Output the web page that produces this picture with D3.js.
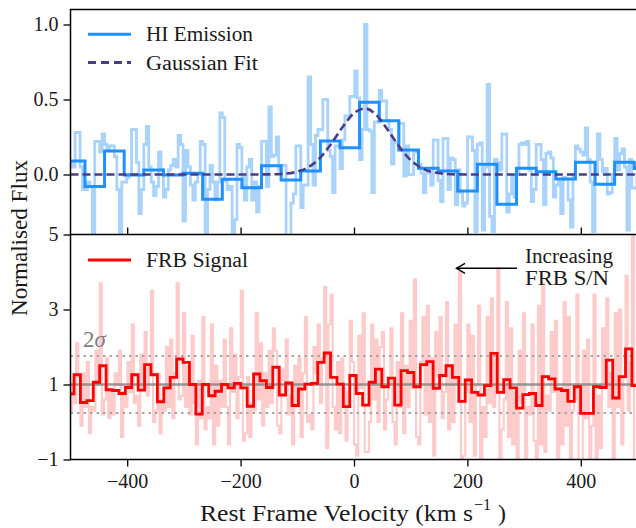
<!DOCTYPE html>
<html>
<head>
<meta charset="utf-8">
<script src="https://cdnjs.cloudflare.com/ajax/libs/d3/7.8.5/d3.min.js"></script>
<style>
body { margin: 0; background: #fff; }
svg text { font-family: "Liberation Serif", "Times New Roman", "DejaVu Serif", serif; fill: #1a1a1a; }
</style>
</head>
<body>
<div id="chart"></div>
<script>
// HI spectrum, native channels
const hiFineStart = -500.45, hiFineWidth = 4.325;
const hiFine = [
  0.08, 0.05, 0.28, 0.28, 0.05, -0.10, -0.10, -0.05, -0.08, -0.45,
  0.22, 0.22, 0.15, 0.27, 0.20, 0.16, 0.19, 0.19, 0.12, -0.10,
  -0.45, -0.05, -0.05, -0.02, 0.00, 0.30, 0.30, 0.08, -0.26, -0.10,
  0.20, 0.32, 0.05, -0.05, -0.14, -0.08, 0.15, 0.03, -0.15, -0.10,
  0.03, 0.06, 0.10, 0.05, 0.26, 0.20, -0.31, 0.16, 0.05, -0.07,
  -0.17, -0.05, 0.00, 0.22, 0.20, -0.45, -0.10, 0.06, -0.05, -0.17,
  -0.05, 0.41, 0.38, -0.04, -0.10, -0.08, -0.45, -0.30, 0.20, 0.18,
  -0.02, -0.17, 0.05, 0.10, -0.17, -0.05, -0.25, -0.08, 0.22, 0.22,
  -0.08, 0.45, 0.12, 0.13, 0.25, 0.03, 0.06, 0.06, -0.45, -0.45,
  -0.19, -0.13, 0.19, 0.19, -0.22, -0.07, -0.07, 0.65, 0.20, -0.07,
  0.26, 0.30, 0.30, 0.50, 0.50, 0.16, 0.12, -0.12, 0.19, 0.19,
  0.04, 0.23, 0.39, 0.39, 0.52, 0.52, 0.69, 0.51, 0.10, 0.30,
  1.00, 0.30, 0.29, -0.12, 0.35, 0.35, 0.56, 0.49, 0.49, 0.36,
  0.30, 0.07, 0.21, 0.21, 0.34, 0.34, -0.01, 0.19, 0.00, 0.00,
  0.15, 0.15, 0.07, 0.01, -0.12, 0.01, 0.01, -0.07, 0.23, 0.23,
  -0.04, -0.18, 0.24, 0.24, -0.10, 0.11, 0.10, -0.20, 0.03, -0.12,
  -0.21, -0.19, 0.25, 0.25, 0.16, -0.38, 0.20, 0.21, -0.37, 0.05,
  0.60, -0.28, -0.38, 0.10, 0.08, 0.03, 0.27, 0.27, -0.25, -0.13,
  -0.01, -0.15, 0.00, 0.20, 0.21, 0.20, 0.22, 0.03, -0.18, -0.10,
  0.20, 0.20, 0.10, -0.20, 0.14, 0.15, 0.11, -0.15, -0.07, -0.05,
  -0.26, -0.02, -0.03, -0.17, -0.35, 0.00, 0.19, 0.17, 0.15, 0.13,
  0.31, 0.10, -0.05, -0.38, 0.00, 0.27, 0.10, 0.02, 0.04, -0.13,
  -0.12, 0.00, 0.24, 0.03, 0.14, 0.17, 0.05, -0.37, 0.10, -0.09,
  -0.09, 0.00
];

// HI spectrum, binned
const hiBinStart = -509.1, hiBinWidth = 34.6;
const hiBinned = [
  0.09, -0.08, 0.157, -0.003, 0.03, -0.003, 0.008, -0.165, -0.032, -0.088,
  0.059, -0.037, 0.023, 0.223, 0.179, 0.481, 0.359, 0.163, 0.041, 0.023,
  -0.11, 0.068, -0.199, 0.041, 0.019, -0.03, 0.081, -0.065, 0.081, 0.04
];

// gaussian fit
const fitVel = [-500, -200, -150, -120, -100, -80, -60, -40, -20, 0, 20, 40, 60, 80, 100, 120, 140, 160, 180, 220, 500];
const fitFlux = [0, 0, 0.001, 0.006, 0.019, 0.05, 0.111, 0.206, 0.317, 0.409, 0.44, 0.394, 0.295, 0.184, 0.096, 0.042, 0.015, 0.005, 0.001, 0, 0];

// FRB spectrum, native channels
const frbFineStart = -505.1, frbFineWidth = 3.77;
const frbFine = [
  0.9, 0.3, 1.0,  0.5, 2.1, 1.2,  -0.1, 1.3, 0.4,  1.6, -0.3, 0.4,  0.3, 1.9, 1.0,
  3.7, 0.2, 0.6,  1.7, 0.1, 0.8,  0.2, 1.3, 1.0,  1.9, -0.4, 0.8,  0.4, 1.6, 0.8,
  2.6, 0.5, 0.7,  -0.1, 1.8, 0.9,  2.4, 0.7, 1.5,  3.5, 0.0, 0.3,  1.3, -0.3, 0.6,
  0.3, 2.0, 0.4,  2.2, 0.1, 1.3,  3.7, 0.6, 0.7,  2.9, 0.4, 1.5,  0.2, 2.3, 0.5,
  -0.6, 1.1, 0.1,  2.8, -0.2, 0.4,  0.1, 2.6, -0.6,  1.5, -0.1, 1.1,  0.4, 2.2, 0.4,
  -0.6, 2.5, 0.8,  1.8, 0.1, 1.2,  3.5, -0.5, -0.3,  1.2, -0.4, 0.5,  0.3, 2.9, 0.6,
  2.1, -0.1, 1.3,  0.4, 1.9, 0.5,  2.5, 1.9, -0.1,  -0.3, 1.4, 1.1,  2.2, 0.2, 0.7,
  -0.6, 1.5, 0.4,  1.7, -0.4, 1.3,  2.8, 0.0, 0.2,  -0.2, 2.0, 1.3,  2.6, 0.5, 1.7,
  3.6, -0.7, 2.6,  3.4, 0.4, -0.2,  1.6, -0.3, 1.7,  0.9, -0.5, 0.8,  2.7, 1.6, -0.6,
  -0.9, 2.3, 0.9,  2.9, -0.8, -0.8,  0.0, 2.6, 0.6,  2.2, 0.0, 2.0,  2.4, -0.2, 0.6,
  1.0, 2.5, 0.0,  -0.6, 1.6, 0.4,  2.9, -0.3, 1.5,  0.4, 2.7, 0.9,  3.8, -0.4, -0.6,
  1.6, 2.8, 0.2,  3.1, 0.0, 1.7,  -0.9, 2.4, 1.2,  2.8, 0.1, 0.8,  3.2, -0.2, 1.5,
  0.0, 2.6, 1.0,  4.0, -1.4, -0.9,  0.8, 2.6, 0.0,  2.3, -0.9, 1.0,  3.1, -1.3, 0.4,
  -0.4, 2.8, 0.5,  3.3, 0.4, 1.8,  4.1, -1.5, -0.2,  0.6, 3.2, -0.4,  2.5, -0.6, 0.8,
  -1.3, 1.9, 0.5,  2.9, -1.1, 0.4,  0.2, 2.6, -0.5,  -1.2, 3.1, -0.6,  3.7, -0.8, 0.7,
  0.3, 2.4, 0.8,  2.7, -1.0, 0.9,  -0.6, 3.2, -0.1,  2.8, -1.4, 0.3,  0.6, 3.4, -1.2,
  -1.3, 1.9, 0.1,  2.2, -1.4, -0.1,  3.4, -1.3, 0.7,  -0.7, 2.5, 1.0,  3.3, 0.4, 1.3,
  -1.4, 2.9, 0.4,  3.0, -0.6, 1.2,  3.9, 0.3, 1.6,  5.6, -1.5, -1.2
];

// FRB spectrum, binned
const frbBinStart = -505.1, frbBinWidth = 11.31;
const frbBinned = [
  0.75, 1.26, 0.52, 0.57, 1.06, 1.5, 0.86, 0.84, 0.76, 0.92,
  1.26, 0.85, 1.53, 1.26, 0.54, 0.91, 1.19, 1.68, 1.59, 1.0,
  0.21, 1.0, 0.7, 0.82, 1.0, 0.91, 1.03, 0.91, 0.42, 1.28,
  1.1, 0.92, 1.46, 0.72, 1.04, 0.44, 0.88, 1.01, 1.03, 1.59,
  1.84, 1.19, 1.01, 0.41, 1.24, 0.76, 0.45, 1.06, 1.41, 0.94,
  1.17, 0.45, 1.37, 1.32, 0.94, 1.53, 1.61, 0.9, 1.24, 1.5,
  1.19, 0.55, 1.12, 0.79, 0.72, 0.97, 1.83, 0.79, 1.13, 0.91,
  0.37, 0.73, 0.76, 0.44, 1.21, 1.15, 0.88, 0.84, 0.55, 0.94,
  0.23, 0.23, 0.94, 0.92, 1.65, 0.64, 1.21, 1.95, 0.97
];

const frbMean = 1;
const sigmaLevels = [0.24, 1.76];

const xTicks = [-400, -200, 0, 200, 400];
const topTicks = [0, 0.5, 1.0];
const botTicks = [-1, 1, 3, 5];

const width = 636, height = 528;
const left = 70.5, right = 637.5;
const top1 = 9.5, mid = 234.5, bottom = 459.5;

const svg = d3.select("#chart").append("svg")
    .attr("width", width)
    .attr("height", height);

const x = d3.scaleLinear().domain([-500, 500]).range([left, right]);
const yTop = d3.scaleLinear().domain([-0.4, 1.1]).range([mid, top1]);
const yBot = d3.scaleLinear().domain([-1, 5]).range([bottom, mid]);

const defs = svg.append("defs");
defs.append("clipPath").attr("id", "clipTop")
  .append("rect").attr("x", left).attr("y", top1).attr("width", right - left).attr("height", mid - top1);
defs.append("clipPath").attr("id", "clipBot")
  .append("rect").attr("x", left).attr("y", mid).attr("width", right - left).attr("height", bottom - mid);

// turn bin values into step points
function steps(start, w, vals) {
    const pts = vals.map((v, i) => [start + i * w, v]);
    pts.push([start + vals.length * w, vals[vals.length - 1]]);
    return pts;
}

const stepTop = d3.line().curve(d3.curveStepAfter)
    .x(d => x(d[0])).y(d => yTop(d[1]));
const stepBot = d3.line().curve(d3.curveStepAfter)
    .x(d => x(d[0])).y(d => yBot(d[1]));

// top panel
const gTop = svg.append("g").attr("clip-path", "url(#clipTop)");

gTop.append("path")
    .attr("d", stepTop(steps(hiFineStart, hiFineWidth, hiFine)))
    .attr("fill", "none")
    .attr("stroke", "#a9d3fb")
    .attr("stroke-width", 2.8);

gTop.append("path")
    .attr("d", stepTop(steps(hiBinStart, hiBinWidth, hiBinned)))
    .attr("fill", "none")
    .attr("stroke", "#1e90ff")
    .attr("stroke-width", 3);

const fitLine = d3.line().curve(d3.curveMonotoneX)
    .x((d, i) => x(fitVel[i])).y(d => yTop(d));
gTop.append("path")
    .attr("d", fitLine(fitFlux))
    .attr("fill", "none")
    .attr("stroke", "#483d8b")
    .attr("stroke-width", 2.6)
    .attr("stroke-dasharray", "8,4");

// bottom panel
const gBot = svg.append("g").attr("clip-path", "url(#clipBot)");

gBot.append("path")
    .attr("d", stepBot(steps(frbFineStart, frbFineWidth, frbFine)))
    .attr("fill", "none")
    .attr("stroke", "#ffcaca")
    .attr("stroke-width", 2.1);

gBot.append("line")
    .attr("x1", left).attr("x2", right)
    .attr("y1", yBot(frbMean)).attr("y2", yBot(frbMean))
    .attr("stroke", "#808080")
    .attr("stroke-opacity", 0.8)
    .attr("stroke-width", 2.5);

gBot.selectAll(".sig")
    .data(sigmaLevels)
    .enter()
    .append("line")
    .attr("class", "sig")
    .attr("x1", left).attr("x2", right)
    .attr("y1", d => yBot(d)).attr("y2", d => yBot(d))
    .attr("stroke", "#a6a6a6")
    .attr("stroke-width", 2.2)
    .attr("stroke-dasharray", "2.5,4");

gBot.append("path")
    .attr("d", stepBot(steps(frbBinStart, frbBinWidth, frbBinned)))
    .attr("fill", "none")
    .attr("stroke", "#ff0000")
    .attr("stroke-width", 2.8);

// axes
function styleAxis(g) {
    g.select(".domain").remove();
    g.selectAll(".tick line").attr("stroke", "#000").attr("stroke-width", 1.3);
    g.selectAll(".tick text")
        .attr("fill", "#1a1a1a")
        .style("font-family", "'Liberation Serif', serif")
        .style("font-size", "20px");
}

svg.append("g")
    .attr("transform", `translate(0,${bottom})`)
    .call(d3.axisBottom(x).tickValues(xTicks).tickSize(7).tickPadding(7).tickFormat(d3.format("d")))
    .call(styleAxis);

svg.append("g")
    .attr("transform", `translate(0,${mid})`)
    .call(d3.axisBottom(x).tickValues(xTicks).tickSize(-7).tickFormat(""))
    .call(styleAxis);

svg.append("g")
    .attr("transform", `translate(${left},0)`)
    .call(d3.axisLeft(yTop).tickValues(topTicks).tickSize(7).tickPadding(5).tickFormat(d3.format(".1f")))
    .call(styleAxis);

svg.append("g")
    .attr("transform", `translate(${left},0)`)
    .call(d3.axisLeft(yBot).tickValues(botTicks).tickSize(7).tickPadding(5).tickFormat(d3.format("d")))
    .call(styleAxis);

// spines
svg.append("rect")
    .attr("x", left).attr("y", top1)
    .attr("width", right - left).attr("height", bottom - top1)
    .attr("fill", "none").attr("stroke", "#000").attr("stroke-width", 1.5);
svg.append("line")
    .attr("x1", left).attr("x2", right).attr("y1", mid).attr("y2", mid)
    .attr("stroke", "#000").attr("stroke-width", 1.5);

// axis labels
svg.append("text")
    .attr("x", 200).attr("y", 521)
    .attr("textLength", 273)
    .attr("lengthAdjust", "spacingAndGlyphs")
    .style("font-size", "24px")
    .text("Rest Frame Velocity (km s");
svg.append("text")
    .attr("x", 474).attr("y", 510)
    .style("font-size", "16px")
    .text("\u22121");
svg.append("text")
    .attr("x", 498).attr("y", 521)
    .style("font-size", "24px")
    .text(")");

svg.append("text")
    .attr("transform", "translate(27,238) rotate(-90)")
    .attr("text-anchor", "middle")
    .attr("textLength", 156)
    .attr("lengthAdjust", "spacingAndGlyphs")
    .style("font-size", "24px")
    .text("Normalised Flux");

// legends
const legTop = [
    { label: "HI Emission", color: "#1e90ff", dash: null, y: 34.3, len: 107 },
    { label: "Gaussian Fit", color: "#483d8b", dash: "8,5", y: 62.5, len: 112 }
];
legTop.forEach(function(d) {
    svg.append("line")
        .attr("x1", 88).attr("x2", 131)
        .attr("y1", d.y).attr("y2", d.y)
        .attr("stroke", d.color)
        .attr("stroke-width", 3)
        .attr("stroke-dasharray", d.dash);
    svg.append("text")
        .attr("x", 146).attr("y", d.y + 7)
        .attr("textLength", d.len)
        .attr("lengthAdjust", "spacingAndGlyphs")
        .style("font-size", "20px")
        .text(d.label);
});

svg.append("line")
    .attr("x1", 88).attr("x2", 131)
    .attr("y1", 260).attr("y2", 260)
    .attr("stroke", "#ff0000")
    .attr("stroke-width", 3);
svg.append("text")
    .attr("x", 146).attr("y", 267)
    .attr("textLength", 102)
    .attr("lengthAdjust", "spacingAndGlyphs")
    .style("font-size", "20px")
    .text("FRB Signal");

// 2 sigma label
svg.append("text")
    .attr("x", 83).attr("y", 347)
    .style("font-size", "23px")
    .style("fill", "#808080")
    .html("2<tspan font-style='italic'>\u03c3</tspan>");

// annotation
svg.append("text")
    .attr("x", 525).attr("y", 263)
    .attr("textLength", 88)
    .attr("lengthAdjust", "spacingAndGlyphs")
    .style("font-size", "20px")
    .text("Increasing");
svg.append("text")
    .attr("x", 525).attr("y", 285)
    .attr("textLength", 84)
    .attr("lengthAdjust", "spacingAndGlyphs")
    .style("font-size", "20px")
    .text("FRB S/N");

svg.append("line")
    .attr("x1", 517).attr("x2", 456.5)
    .attr("y1", 268.3).attr("y2", 268.3)
    .attr("stroke", "#000").attr("stroke-width", 1.4);
svg.append("path")
    .attr("d", "M465,263.3 L456.5,268.3 L465,273.3")
    .attr("fill", "none")
    .attr("stroke", "#000").attr("stroke-width", 1.4);
</script>
</body>
</html>
